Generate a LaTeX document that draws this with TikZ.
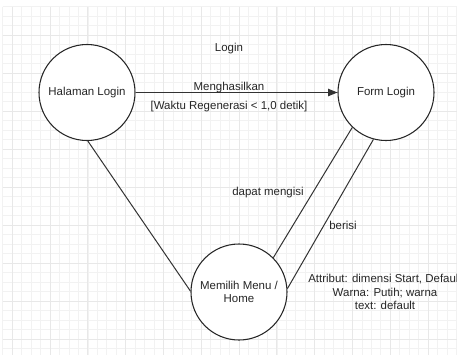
\documentclass[tikz,border=0pt]{standalone}
\usepackage{fontspec}
\setmainfont{Liberation Sans}
\usetikzlibrary{arrows.meta}
\begin{document}
\begin{tikzpicture}[x=0.75pt,y=-0.75pt,
  state/.style={circle,draw=black!85,line width=0.8pt,fill=white,minimum size=72pt,inner sep=0pt,align=center,font=\fontsize{8.6}{10.3}\selectfont,text=black!85},
  lbl/.style={font=\fontsize{8.6}{10.3}\selectfont,text=black!85,inner sep=0pt,align=center},
  conn/.style={draw=black!80,line width=0.75pt},
  minorgrid/.style={draw=black!5,line width=0.6pt},
  majorgrid/.style={draw=black!9,line width=0.7pt}]
\useasboundingbox (0,0) rectangle (457,358);
\clip (0,0) rectangle (457,358);
\fill[white] (0,0) rectangle (457,358);
% grid
\foreach \k in {0,...,48} {
  \draw[minorgrid] ({2.85+9.45*\k},6.5) -- ({2.85+9.45*\k},355);
}
\foreach \k in {0,...,36} {
  \draw[minorgrid] (2.85,{6.5+9.5*\k}) -- (457,{6.5+9.5*\k});
}
\foreach \k in {0,...,11} {
  \draw[majorgrid] ({12.3+37.8*\k},6.5) -- ({12.3+37.8*\k},355);
}
\foreach \k in {0,...,8} {
  \draw[majorgrid] (2.85,{35+38*\k}) -- (457,{35+38*\k});
}
% nodes
\node[state] (hal) at (87,92.5) {Halaman Login};
\node[state] (form) at (386,92.5) {Form Login};
\node[state] (menu) at (239,292) {Memilih Menu /\\Home};
% connectors
\draw[conn,-{Triangle[length=7pt,width=5.5pt]}] (hal) -- (form);
\draw[conn] (hal.271) -- (menu.179);
\draw[conn] (form.226) -- (menu.45);
\draw[conn] (form.255) -- (menu.4);
% labels
\node[lbl] (title) at (229,49) {Login};
\node[lbl] (l1) at (229,88) {Menghasilkan};
\node[lbl] (l2) at (229,107) {[Waktu Regenerasi < 1,0 detik]};
\node[lbl] (l3) at (268,193) {dapat mengisi};
\node[lbl] (l4) at (343,225) {berisi};
\node[lbl,font=\fontsize{8.6}{10.1}\selectfont] (l5) at (385,292) {Attribut: dimensi Start, Default\\Warna: Putih; warna\\text: default};
\end{tikzpicture}
\end{document}
